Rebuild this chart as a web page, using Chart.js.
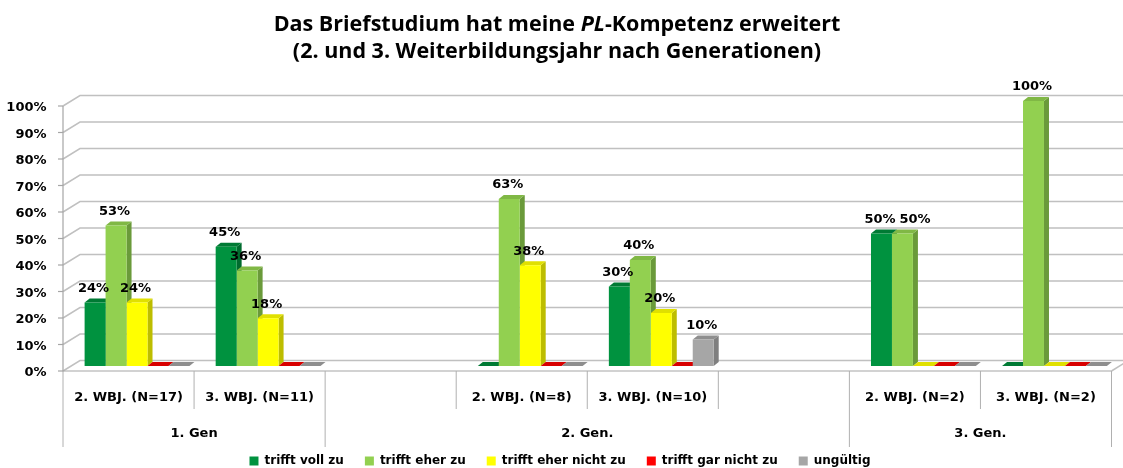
<!DOCTYPE html>
<html>
<head>
<meta charset="utf-8">
<script src="https://cdn.jsdelivr.net/npm/chart.js@4.4.1/dist/chart.umd.min.js"></script>
<style>
html, body { margin: 0; padding: 0; background: #fff; }
#wrap { position: relative; width: 1123px; height: 468px; }
#chartKompetenz { position: absolute; left: 0; top: 0; }
#titel {
    position: absolute; left: 0; top: 9px; width: 1114px;
    text-align: center; color: #000;
    font-family: "Open Sans", sans-serif; font-weight: 700;
    font-size: 21.5px; line-height: 27px;
}
</style>
</head>
<body>
<div id="wrap">
    <canvas id="chartKompetenz" width="1123" height="468"></canvas>
    <div id="titel">Das Briefstudium hat meine <i>PL</i>-Kompetenz erweitert<br>(2. und 3. Weiterbildungsjahr nach Generationen)</div>
</div>
<script>
// Kategorien (leere Felder trennen die Generationen)
var kategorien = ['2. WBJ. (N=17)', '3. WBJ. (N=11)', '', '2. WBJ. (N=8)', '3. WBJ. (N=10)', '', '2. WBJ. (N=2)', '3. WBJ. (N=2)'];
var generationen = ['1. Gen', '2. Gen.', '3. Gen.'];
var generationVon = [0, 2, 6];
var generationBis = [1, 5, 7];

// Antworten in Prozent
var trifftVoll      = [24, 45, null, 0,  30, null, 50, 0];
var trifftEher      = [53, 36, null, 63, 40, null, 50, 100];
var trifftEherNicht = [24, 18, null, 38, 20, null, 0,  0];
var trifftGarNicht  = [0,  0,  null, 0,  0,  null, 0,  0];
var ungueltig       = [0,  0,  null, 0,  10, null, 0,  0];

var yTicks = [0, 10, 20, 30, 40, 50, 60, 70, 80, 90, 100];

var farbeVorn  = ['#00923F', '#92D050', '#FFFF00', '#FF0000', '#A6A6A6'];
var farbeSeite = ['#006B2E', '#6A9A3A', '#BDBD00', '#B00000', '#7F7F7F'];
var farbeOben  = ['#007A34', '#80B845', '#E0E000', '#D80000', '#8E8E8E'];

// Tiefe der Saeulen und Versatz Saeulenebene -> Vorderkante / Rueckwand
var tiefeX = 5, tiefeY = 4;
var vorneX = 8.5, vorneY = 5;
var hintenX = 8.5, hintenY = 5.5;

Chart.defaults.font.family = 'DejaVu Sans';
Chart.defaults.font.weight = 'bold';
Chart.defaults.color = '#000';

var raum3d = {
    id: 'raum3d',
    beforeDatasetsDraw: function(chart) {
        var ctx = chart.ctx;
        var area = chart.chartArea;
        var y = chart.scales.y;
        ctx.save();
        // Rueckwand und Boden
        ctx.strokeStyle = '#C0C0C0';
        ctx.lineWidth = 1.5;
        yTicks.forEach(function(v) {
            var py = y.getPixelForValue(v);
            ctx.beginPath();
            ctx.moveTo(area.left - vorneX, py + vorneY);
            ctx.lineTo(area.left + hintenX, py - hintenY);
            ctx.lineTo(chart.width + 5, py - hintenY);
            ctx.stroke();
        });
        var y0 = y.getPixelForValue(0);
        ctx.beginPath();
        ctx.moveTo(area.right - vorneX, y0 + vorneY);
        ctx.lineTo(area.right + hintenX, y0 - hintenY);
        ctx.stroke();

        // vordere Achsen
        ctx.strokeStyle = '#A6A6A6';
        ctx.lineWidth = 1.2;
        ctx.beginPath();
        ctx.moveTo(area.left - vorneX, y.getPixelForValue(100) + vorneY);
        ctx.lineTo(area.left - vorneX, y0 + vorneY);
        ctx.lineTo(area.right - vorneX, y0 + vorneY);
        ctx.stroke();
        yTicks.forEach(function(v) {
            var py = y.getPixelForValue(v) + vorneY;
            ctx.beginPath();
            ctx.moveTo(area.left - vorneX - 5, py);
            ctx.lineTo(area.left - vorneX, py);
            ctx.stroke();
        });

        // Seiten- und Deckflaechen der Saeulen
        var n = chart.data.labels.length;
        for (var i = 0; i < n; i++) {
            chart.data.datasets.forEach(function(ds, d) {
                if (ds.data[i] === null) return;
                var bar = chart.getDatasetMeta(d).data[i];
                var l = bar.x - bar.width / 2, r = bar.x + bar.width / 2;
                ctx.fillStyle = farbeSeite[d];
                ctx.beginPath();
                ctx.moveTo(r, bar.y);
                ctx.lineTo(r + tiefeX, bar.y - tiefeY);
                ctx.lineTo(r + tiefeX, bar.base - tiefeY);
                ctx.lineTo(r, bar.base);
                ctx.closePath();
                ctx.fill();
                ctx.fillStyle = farbeOben[d];
                ctx.beginPath();
                ctx.moveTo(l, bar.y);
                ctx.lineTo(r, bar.y);
                ctx.lineTo(r + tiefeX, bar.y - tiefeY);
                ctx.lineTo(l + tiefeX, bar.y - tiefeY);
                ctx.closePath();
                ctx.fill();
            });
        }
        ctx.restore();
    },
    afterDatasetsDraw: function(chart) {
        var ctx = chart.ctx;
        ctx.save();
        ctx.font = 'bold 13px "DejaVu Sans"';
        ctx.fillStyle = '#000';
        ctx.textAlign = 'center';
        ctx.textBaseline = 'middle';
        var n = chart.data.labels.length;
        for (var i = 0; i < n; i++) {
            var vorher = null;
            chart.data.datasets.forEach(function(ds, d) {
                var v = ds.data[i];
                if (!v) return;
                var bar = chart.getDatasetMeta(d).data[i];
                var text = v + '%';
                var w = ctx.measureText(text).width;
                var cx = bar.x - 1.5, cy = bar.y - 14;
                // ueberlappende Beschriftungen nach rechts schieben
                if (vorher && Math.abs(vorher.cy - cy) < 14 && cx - w / 2 < vorher.r + 4) {
                    cx = vorher.r + 4 + w / 2;
                }
                ctx.fillText(text, cx, cy);
                vorher = { r: cx + w / 2, cy: cy };
            });
        }
        ctx.restore();
    },
    afterDraw: function(chart) {
        var ctx = chart.ctx;
        var x = chart.scales.x;
        var y0 = chart.scales.y.getPixelForValue(0) + vorneY;
        var breite = (x.right - x.left) / chart.data.labels.length;
        ctx.save();
        ctx.strokeStyle = '#B0B0B0';
        ctx.lineWidth = 1;
        for (var i = 0; i <= chart.data.labels.length; i++) {
            var px = x.left + i * breite - vorneX;
            var lang = generationVon.indexOf(i) >= 0 || i === chart.data.labels.length;
            ctx.beginPath();
            ctx.moveTo(px, y0);
            ctx.lineTo(px, lang ? 447 : 409);
            ctx.stroke();
        }
        ctx.font = 'bold 13px "DejaVu Sans"';
        ctx.fillStyle = '#000';
        ctx.textAlign = 'center';
        ctx.textBaseline = 'middle';
        generationen.forEach(function(g, k) {
            var mitte = x.left + (generationVon[k] + generationBis[k] + 1) / 2 * breite - vorneX;
            ctx.fillText(g, mitte, 434);
        });
        ctx.restore();
    }
};

function datensatz(name, werte, idx) {
    return {
        label: name,
        data: werte,
        backgroundColor: farbeVorn[idx],
        borderWidth: 0,
        categoryPercentage: 0.8,
        barPercentage: 1.0
    };
}

var ctx = document.getElementById('chartKompetenz').getContext('2d');
var myChart = new Chart(ctx, {
    type: 'bar',
    data: {
        labels: kategorien,
        datasets: [
            datensatz('trifft voll zu', trifftVoll, 0),
            datensatz('trifft eher zu', trifftEher, 1),
            datensatz('trifft eher nicht zu', trifftEherNicht, 2),
            datensatz('trifft gar nicht zu', trifftGarNicht, 3),
            datensatz('ungültig', ungueltig, 4)
        ]
    },
    options: {
        responsive: false,
        animation: false,
        layout: { padding: { top: 101, right: 3, left: 0, bottom: 0 } },
        plugins: {
            legend: {
                position: 'bottom',
                maxHeight: 34,
                labels: {
                    boxWidth: 9,
                    boxHeight: 9,
                    padding: 21,
                    font: { size: 12, weight: 'bold' }
                }
            },
            tooltip: { enabled: false }
        },
        scales: {
            y: {
                min: 0,
                max: 100,
                afterFit: function(scale) { scale.width = 71.5; },
                grid: { display: false },
                border: { display: false },
                ticks: {
                    stepSize: 10,
                    padding: 17,
                    labelOffset: 7,
                    font: { size: 13, weight: 'bold' },
                    callback: function(v) { return v + '%'; }
                }
            },
            x: {
                afterFit: function(scale) { scale.height = 68; },
                grid: { display: false },
                border: { display: false },
                ticks: {
                    autoSkip: false,
                    maxRotation: 0,
                    padding: 16,
                    labelOffset: -8.5,
                    font: { size: 13, weight: 'bold' }
                }
            }
        }
    },
    plugins: [raum3d]
});
</script>
</body>
</html>
